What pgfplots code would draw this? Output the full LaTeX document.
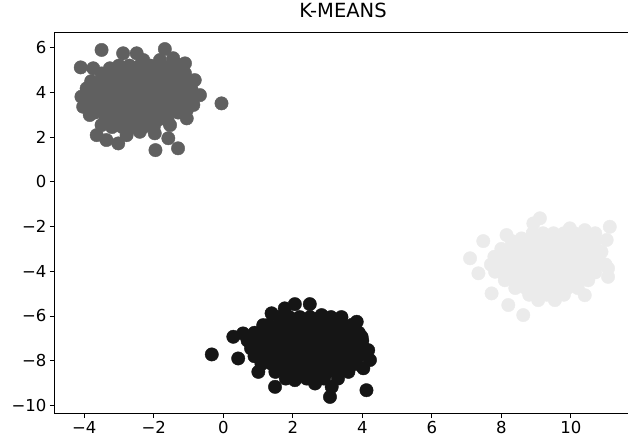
\documentclass[border=0pt]{standalone}
\usepackage{pgfplots}
\pgfplotsset{compat=1.18}
\usepackage{fontspec}
\setmainfont{DejaVu Sans}
\definecolor{cA}{HTML}{606060}
\definecolor{cB}{HTML}{151515}
\definecolor{cC}{HTML}{EBEBEB}
\begin{document}
\begin{tikzpicture}
\begin{axis}[name=ax, at={(0,0)}, anchor=south west,
 scale only axis, width=576pt, height=380.7pt,
 xmin=-4.84, xmax=11.73, ymin=-10.34, ymax=6.69,
 xtick={-4,-2,...,10}, xticklabels={−4,−2,0,2,4,6,8,10},
 ytick={-10,-8,...,6}, yticklabels={−10,−8,−6,−4,−2,0,2,4,6},
 tick align=outside, xtick pos=bottom, ytick pos=left,
 major tick length=5pt,
 tick style={black, line width=0.9pt},
 axis line style={black, line width=1pt},
 ticklabel style={font=\fontsize{16.5}{18}\selectfont, text=black},
 title={K-MEANS},
 title style={at={(0.5,1)}, anchor=base, yshift=9pt, font=\fontsize{19.5}{22}\selectfont},
]
% cluster 1 (dark gray)
\addplot[only marks, mark=*, mark size=6.7pt, color=cA, mark options={draw=cA, fill=cA}] coordinates {
(-3.50,5.90) (-1.68,5.94) (-4.10,5.12) (-3.74,5.08) (-2.88,5.75) (-2.49,5.75) (-2.30,5.45) (-1.10,5.30) (-0.82,4.55) (-0.67,3.88) (-0.05,3.51) (-1.05,3.21) (-1.53,2.54) (-1.58,1.95) (-1.30,1.50) (-1.95,1.42) (-1.97,2.17) (-2.40,2.24) (-3.02,1.72) (-3.36,1.87) (-3.64,2.09) (-3.50,2.54) (-4.03,3.36) (-4.08,3.81) (-3.93,4.18) (-3.84,2.99) (-3.26,5.08) (-1.82,5.45) (-1.44,5.53) (-0.91,4.11) (-0.86,3.44) (-1.05,2.84) (-2.78,2.09)
(-3.0,5.2) (-2.7,5.2) (-2.4,5.2) (-2.1,5.2) (-1.8,5.2) (-1.5,5.2) (-1.25,5.2)
(-3.5,4.85) (-3.2,4.85) (-2.9,4.85) (-2.6,4.85) (-2.3,4.85) (-2.0,4.85) (-1.7,4.85) (-1.4,4.85) (-1.1,4.85)
(-3.8,4.5) (-3.5,4.5) (-3.2,4.5) (-2.9,4.5) (-2.6,4.5) (-2.3,4.5) (-2.0,4.5) (-1.7,4.5) (-1.4,4.5) (-1.1,4.5)
(-3.7,4.15) (-3.4,4.15) (-3.1,4.15) (-2.8,4.15) (-2.5,4.15) (-2.2,4.15) (-1.9,4.15) (-1.6,4.15) (-1.3,4.15) (-1.0,4.15)
(-3.8,3.8) (-3.5,3.8) (-3.2,3.8) (-2.9,3.8) (-2.6,3.8) (-2.3,3.8) (-2.0,3.8) (-1.7,3.8) (-1.4,3.8) (-1.1,3.8) (-0.85,3.8)
(-3.9,3.45) (-3.6,3.45) (-3.3,3.45) (-3.0,3.45) (-2.7,3.45) (-2.4,3.45) (-2.1,3.45) (-1.8,3.45) (-1.5,3.45) (-1.2,3.45)
(-3.7,3.1) (-3.4,3.1) (-3.1,3.1) (-2.8,3.1) (-2.5,3.1) (-2.2,3.1) (-1.9,3.1) (-1.6,3.1) (-1.3,3.1)
(-3.4,2.75) (-3.1,2.75) (-2.8,2.75) (-2.5,2.75) (-2.2,2.75) (-1.9,2.75) (-1.6,2.75)
(-3.2,2.45) (-2.9,2.45) (-2.6,2.45) (-2.3,2.45) (-2.0,2.45)
};
% cluster 2 (near black)
\addplot[only marks, mark=*, mark size=6.7pt, color=cB, mark options={draw=cB, fill=cB}] coordinates {
(-0.33,-7.72) (0.29,-6.93) (0.43,-7.90) (0.57,-6.78) (1.01,-8.50) (1.49,-9.17) (2.06,-5.47) (2.49,-5.47) (1.39,-5.88) (1.77,-5.66) (1.15,-6.41) (2.83,-5.96) (3.84,-6.26) (3.98,-6.93) (4.17,-7.53) (4.22,-7.97) (4.03,-8.34) (4.12,-9.32) (3.07,-9.62) (3.12,-9.17) (2.64,-9.02) (2.06,-8.87) (3.40,-8.42)
(1.6,-6.05) (1.9,-6.05) (2.2,-6.05) (2.5,-6.05) (2.8,-6.05) (3.1,-6.05) (3.4,-6.05)
(1.3,-6.4) (1.6,-6.4) (1.9,-6.4) (2.2,-6.4) (2.5,-6.4) (2.8,-6.4) (3.1,-6.4) (3.4,-6.4) (3.7,-6.4)
(0.9,-6.75) (1.2,-6.75) (1.5,-6.75) (1.8,-6.75) (2.1,-6.75) (2.4,-6.75) (2.7,-6.75) (3.0,-6.75) (3.3,-6.75) (3.6,-6.75) (3.9,-6.75)
(0.7,-7.1) (1.0,-7.1) (1.3,-7.1) (1.6,-7.1) (1.9,-7.1) (2.2,-7.1) (2.5,-7.1) (2.8,-7.1) (3.1,-7.1) (3.4,-7.1) (3.7,-7.1) (4.0,-7.1)
(0.8,-7.45) (1.1,-7.45) (1.4,-7.45) (1.7,-7.45) (2.0,-7.45) (2.3,-7.45) (2.6,-7.45) (2.9,-7.45) (3.2,-7.45) (3.5,-7.45) (3.8,-7.45) (4.05,-7.45)
(0.9,-7.8) (1.2,-7.8) (1.5,-7.8) (1.8,-7.8) (2.1,-7.8) (2.4,-7.8) (2.7,-7.8) (3.0,-7.8) (3.3,-7.8) (3.6,-7.8) (3.9,-7.8)
(1.1,-8.15) (1.4,-8.15) (1.7,-8.15) (2.0,-8.15) (2.3,-8.15) (2.6,-8.15) (2.9,-8.15) (3.2,-8.15) (3.5,-8.15) (3.8,-8.15)
(1.5,-8.5) (1.8,-8.5) (2.1,-8.5) (2.4,-8.5) (2.7,-8.5) (3.0,-8.5) (3.3,-8.5) (3.6,-8.5)
(1.8,-8.8) (2.4,-8.8) (2.9,-8.8) (3.3,-8.8)
};
% cluster 3 (light gray)
\addplot[only marks, mark=*, mark size=6.7pt, color=cC, mark options={draw=cC, fill=cC}] coordinates {
(7.10,-3.42) (7.48,-2.65) (7.34,-4.09) (7.72,-4.99) (8.20,-5.51) (8.63,-5.96) (8.15,-2.38) (9.11,-1.63) (8.92,-1.86) (9.97,-2.08) (10.40,-2.16) (11.12,-2.01) (11.03,-2.60) (11.07,-3.87) (11.07,-4.25) (10.40,-5.07) (9.54,-5.29) (9.06,-5.29) (8.58,-2.53) (7.82,-4.02) (10.88,-3.13)
(8.9,-2.3) (9.2,-2.3) (9.5,-2.3) (9.8,-2.3) (10.1,-2.3) (10.4,-2.3) (10.7,-2.3)
(8.3,-2.65) (8.6,-2.65) (8.9,-2.65) (9.2,-2.65) (9.5,-2.65) (9.8,-2.65) (10.1,-2.65) (10.4,-2.65) (10.7,-2.65)
(8.0,-3.0) (8.3,-3.0) (8.6,-3.0) (8.9,-3.0) (9.2,-3.0) (9.5,-3.0) (9.8,-3.0) (10.1,-3.0) (10.4,-3.0) (10.7,-3.0)
(7.8,-3.35) (8.1,-3.35) (8.4,-3.35) (8.7,-3.35) (9.0,-3.35) (9.3,-3.35) (9.6,-3.35) (9.9,-3.35) (10.2,-3.35) (10.5,-3.35) (10.8,-3.35)
(7.7,-3.7) (8.0,-3.7) (8.3,-3.7) (8.6,-3.7) (8.9,-3.7) (9.2,-3.7) (9.5,-3.7) (9.8,-3.7) (10.1,-3.7) (10.4,-3.7) (10.7,-3.7) (11.0,-3.7)
(8.0,-4.05) (8.3,-4.05) (8.6,-4.05) (8.9,-4.05) (9.2,-4.05) (9.5,-4.05) (9.8,-4.05) (10.1,-4.05) (10.4,-4.05) (10.7,-4.05)
(8.1,-4.4) (8.4,-4.4) (8.7,-4.4) (9.0,-4.4) (9.3,-4.4) (9.6,-4.4) (9.9,-4.4) (10.2,-4.4) (10.5,-4.4)
(8.4,-4.75) (8.7,-4.75) (9.0,-4.75) (9.3,-4.75) (9.6,-4.75) (9.9,-4.75) (10.2,-4.75)
(8.8,-5.05) (9.3,-5.05) (9.8,-5.05)
};
\end{axis}
\pgfresetboundingbox
\path (ax.south west) ++(-55pt,-34pt) rectangle ++(628pt,447pt);
\end{tikzpicture}
\end{document}
